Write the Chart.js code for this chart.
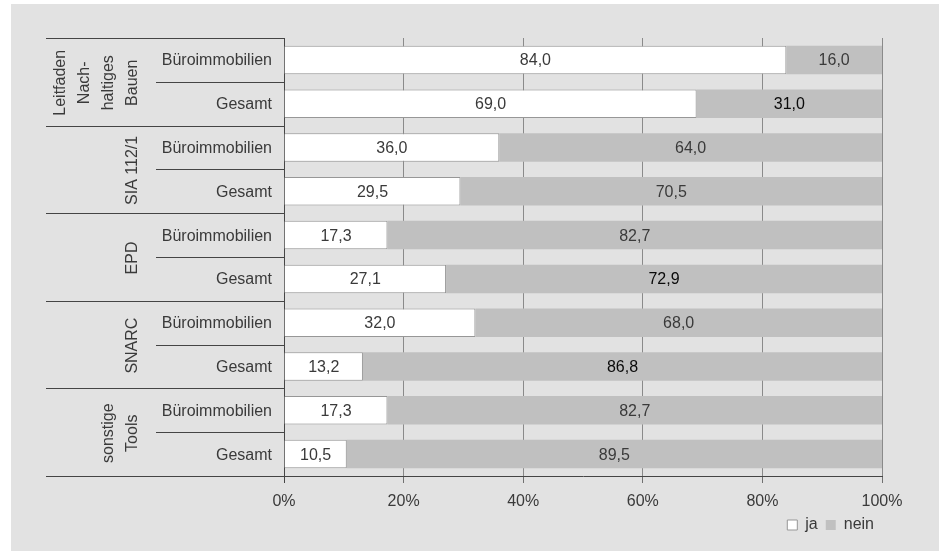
<!doctype html>
<html lang="de">
<head>
    <meta charset="utf-8">
    <title>Nutzung von Planungstools</title>
    <script src="https://cdn.jsdelivr.net/npm/chart.js@4.4.1/dist/chart.umd.min.js"></script>
    <style>
        body {
            margin: 0;
            background: #ffffff;
        }

        #panel {
            position: absolute;
            left: 11px;
            top: 4px;
            width: 928px;
            height: 547px;
            background: #e2e2e2;
        }
    </style>
</head>
<body>

<div id="panel">
    <canvas id="chart"></canvas>
</div>

<script>
    // tools (rotated group labels, one entry per line) and the two sub rows per tool
    const groups = [
        ['Leitfaden', 'Nach-', 'haltiges', 'Bauen'],
        ['SIA 112/1'],
        ['EPD'],
        ['SNARC'],
        ['sonstige', 'Tools']
    ];
    const subRows = ['Büroimmobilien', 'Gesamt'];

    // share in percent
    const ja = [84.0, 69.0, 36.0, 29.5, 17.3, 27.1, 32.0, 13.2, 17.3, 10.5];
    const nein = [16.0, 31.0, 64.0, 70.5, 82.7, 72.9, 68.0, 86.8, 82.7, 89.5];

    const xTicks = [0, 20, 40, 60, 80, 100];

    const rows = [];
    groups.forEach(function (g, gi) {
        subRows.forEach(function (s) {
            rows.push(gi + ' ' + s);
        });
    });

    const FONT = '"Liberation Sans", Arial, sans-serif';
    const TEXT = '#3a3a3a';
    const LINE = '#454545';

    // values printed a bit darker in the "nein" series
    const darkNein = [1, 5, 7];

    const rowLabels = {
        id: 'rowLabels',
        afterDraw(chart) {
            const ctx = chart.ctx;
            const y = chart.scales.y;
            const area = chart.chartArea;
            const band = Math.abs(y.getPixelForValue(1) - y.getPixelForValue(0));

            ctx.save();
            ctx.strokeStyle = LINE;
            ctx.lineWidth = 1;
            ctx.fillStyle = TEXT;
            ctx.font = '16px ' + FONT;

            // separators between tools and between sub rows
            for (let i = 0; i <= rows.length; i++) {
                const py = Math.round(y.getPixelForValue(i) - band / 2) + 0.5;
                const left = (i % subRows.length === 0) ? 35 : 145;
                ctx.beginPath();
                ctx.moveTo(left, py);
                ctx.lineTo(area.left, py);
                ctx.stroke();
            }

            // sub row labels
            ctx.textAlign = 'right';
            ctx.textBaseline = 'middle';
            rows.forEach(function (r, i) {
                ctx.fillText(subRows[i % subRows.length], 261, y.getPixelForValue(i) + 1);
            });

            // rotated tool names
            ctx.textAlign = 'center';
            groups.forEach(function (lines, gi) {
                const first = y.getPixelForValue(gi * subRows.length);
                const last = y.getPixelForValue(gi * subRows.length + subRows.length - 1);
                const cy = (first + last) / 2 + 1;
                lines.forEach(function (txt, li) {
                    const cx = 122 - (lines.length - 1 - li) * 24;
                    ctx.save();
                    ctx.translate(cx, cy);
                    ctx.rotate(-Math.PI / 2);
                    ctx.fillText(txt, 0, 0);
                    ctx.restore();
                });
            });
            ctx.restore();
        },
        afterDatasetsDraw(chart) {
            const ctx = chart.ctx;
            ctx.save();
            ctx.font = '16px ' + FONT;
            ctx.textAlign = 'center';
            ctx.textBaseline = 'middle';
            chart.data.datasets.forEach(function (ds, di) {
                chart.getDatasetMeta(di).data.forEach(function (bar, i) {
                    const v = ds.data[i];
                    ctx.fillStyle = (di === 1 && darkNein.includes(i)) ? '#0a0a0a' : TEXT;
                    ctx.fillText(v.toFixed(1).replace('.', ','), (bar.x + bar.base) / 2, bar.y + 1);
                });
            });
            ctx.restore();
        }
    };

    const config = {
        type: 'bar',
        data: {
            labels: rows,
            datasets: [
                {
                    label: 'ja',
                    data: ja,
                    backgroundColor: '#ffffff',
                    borderColor: '#979797',
                    borderWidth: 1,
                    borderSkipped: 'start'
                },
                {
                    label: 'nein',
                    data: nein,
                    backgroundColor: '#c0c0c0',
                    borderColor: '#c0c0c0',
                    borderWidth: 0
                }
            ]
        },
        options: {
            indexAxis: 'y',
            responsive: true,
            maintainAspectRatio: false,
            animation: false,
            categoryPercentage: 1,
            barPercentage: 0.65,
            layout: {
                padding: {left: 265, right: 57, top: 34, bottom: 8}
            },
            scales: {
                x: {
                    stacked: true,
                    min: 0,
                    max: 100,
                    afterBuildTicks(axis) {
                        axis.ticks = xTicks.map(function (v) { return {value: v}; });
                    },
                    // tight axis box, the legend follows right under the tick labels
                    afterFit(axis) {
                        axis.height = 33;
                    },
                    ticks: {
                        padding: 9,
                        color: TEXT,
                        font: {family: FONT, size: 16},
                        callback: function (v) { return v + '%'; }
                    },
                    grid: {
                        color: function (c) { return c.index === 0 ? LINE : '#8a8a8a'; },
                        tickColor: function (c) { return c.index === 0 ? LINE : '#707070'; },
                        tickLength: 7
                    },
                    border: {color: LINE}
                },
                y: {
                    stacked: true,
                    ticks: {display: false},
                    grid: {display: false},
                    border: {display: false}
                }
            },
            plugins: {
                tooltip: {enabled: false},
                legend: {
                    position: 'bottom',
                    align: 'end',
                    labels: {
                        boxWidth: 10,
                        boxHeight: 10,
                        padding: 8,
                        color: TEXT,
                        font: {family: FONT, size: 16}
                    }
                }
            }
        },
        plugins: [rowLabels]
    };

    const chart = new Chart(document.getElementById('chart'), config);
</script>
</body>
</html>
